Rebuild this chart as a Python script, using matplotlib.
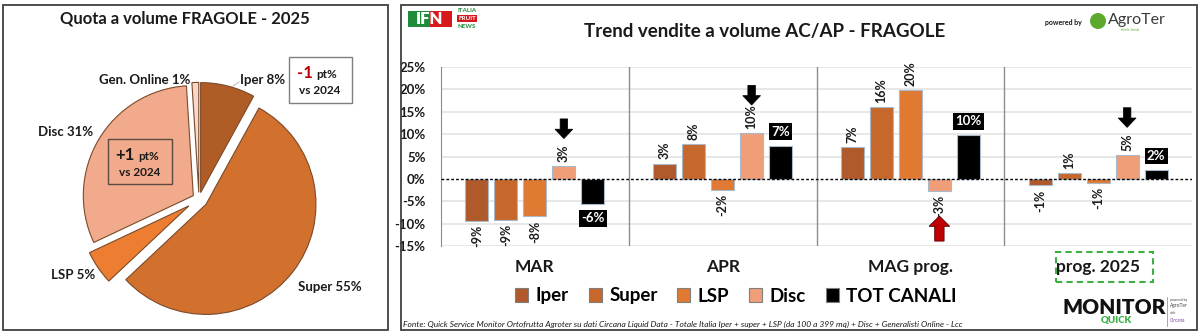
import matplotlib
matplotlib.use("Agg")
import matplotlib.pyplot as plt
from matplotlib.patches import Rectangle, FancyArrow, Ellipse
from matplotlib.lines import Line2D
import numpy as np

plt.rcParams['font.family'] = ['Lato', 'DejaVu Sans']

# ---------------- data ----------------
pie_labels = ["Iper", "Super", "LSP", "Disc", "Gen. Online"]
pie_values = [8, 55, 5, 31, 1]

categories = ["MAR", "APR", "MAG prog.", "prog. 2025"]
series_names = ["Iper", "Super", "LSP", "Disc", "TOT CANALI"]
iper = [-9.4, 3.4, 7.1, -1.4]
super_ = [-9.2, 7.8, 16.0, 1.3]
lsp = [-8.4, -2.4, 19.8, -0.9]
disc = [2.8, 10.3, -2.6, 5.3]
tot = [-5.6, 7.3, 9.7, 1.9]
yticks = [-15, -10, -5, 0, 5, 10, 15, 20, 25]

W, H = 1200, 334
fig = plt.figure(figsize=(12, 3.34), dpi=100)

def fx(x):
    return x / W

def fy(y):
    return 1 - y / H

# panel borders
fig.patches.append(Rectangle((fx(3), fy(330)), fx(385), 325 / H, transform=fig.transFigure,
                             fill=False, edgecolor='#404040', lw=1.3))
fig.patches.append(Rectangle((fx(401), fy(330)), fx(796), 325 / H, transform=fig.transFigure,
                             fill=False, edgecolor='#404040', lw=1.3))

# ---------------- pie ----------------
pie_colors = ['#B05C26', '#D2702E', '#ED7D31', '#F2AA8C', '#FAD7C8']
R = 110.0
cx, cy = 199, 199
axp = fig.add_axes([fx(cx - 165), fy(cy + 135), 330 / W, 270 / H])
axp.pie(pie_values, colors=pie_colors, startangle=90, counterclock=False,
        explode=[0.06, 0.08, 0.11, 0.06, 0.06], radius=1.0,
        wedgeprops=dict(edgecolor='#7A4A2A', linewidth=0.8))
axp.set_xlim(-1.5, 1.5)
axp.set_ylim(-135 / R, 135 / R)
axp.set_aspect('auto')
axp.axis('off')

fig.text(fx(185), fy(18), "Quota a volume FRAGOLE - 2025", ha='center', va='center',
         fontsize=12, fontweight='bold', color='#1a1a1a')

lbl_kw = dict(fontsize=9.5, fontweight='bold', color='#1a1a1a', va='center')
fig.text(fx(240), fy(80), f"{pie_labels[0]} {pie_values[0]}%", ha='left', **lbl_kw)
fig.text(fx(190), fy(80), f"{pie_labels[4]} {pie_values[4]}%", ha='right', **lbl_kw)
fig.text(fx(93), fy(132), f"{pie_labels[3]} {pie_values[3]}%", ha='right', **lbl_kw)
fig.text(fx(95), fy(275), f"{pie_labels[2]} {pie_values[2]}%", ha='right', **lbl_kw)
fig.text(fx(298), fy(287), f"{pie_labels[1]} {pie_values[1]}%", ha='left', **lbl_kw)
# leader line Iper
fig.lines.append(Line2D([fx(233), fx(239)], [fy(86), fy(82)], transform=fig.transFigure,
                        color='#BFBFBF', lw=0.8))

# -1 box
fig.patches.append(Rectangle((fx(289), fy(103)), 63 / W, 46 / H, transform=fig.transFigure,
                             facecolor='white', edgecolor='#7F7F7F', lw=1.0))
fig.text(fx(313), fy(73), "-1", ha='right', va='center', fontsize=12, fontweight='bold', color='#C00000')
fig.text(fx(316), fy(74), "pt%", ha='left', va='center', fontsize=8.5, fontweight='bold', color='#1a1a1a')
fig.text(fx(320), fy(91), "vs 2024", ha='center', va='center', fontsize=8.5, fontweight='bold', color='#1a1a1a')
# +1 box
fig.patches.append(Rectangle((fx(108), fy(184)), 64 / W, 45 / H, transform=fig.transFigure,
                             fill=False, edgecolor='#5A4A40', lw=1.0))
fig.text(fx(135), fy(155), "+1", ha='right', va='center', fontsize=12, fontweight='bold', color='#1a1a1a')
fig.text(fx(138), fy(156), "pt%", ha='left', va='center', fontsize=8.5, fontweight='bold', color='#1a1a1a')
fig.text(fx(140), fy(173), "vs 2024", ha='center', va='center', fontsize=8.5, fontweight='bold', color='#1a1a1a')

# ---------------- bars ----------------
bar_colors = ['#B0592A', '#C6682C', '#E07A32', '#F09E78', '#000000']
ax = fig.add_axes([fx(441), fy(246), 751 / W, 179 / H])
ax.set_xlim(0, 4)
ax.set_ylim(-15, 25)
series = [iper, super_, lsp, disc, tot]
x = np.arange(len(categories)) + 0.5
step = 0.1545
bw = 0.1225
for k, (vals, col) in enumerate(zip(series, bar_colors)):
    xs = x + (k - 2) * step
    ax.bar(xs, vals, width=bw, color=col, edgecolor='#A9B9C9', lw=0.8, zorder=3)
    for xi, v in zip(xs, vals):
        lab = f"{int(np.round(v)):d}%"
        if k < 4:
            ax.annotate(lab, (xi, v), xytext=(0, 3 if v >= 0 else -3), textcoords='offset points',
                        rotation=90, ha='center', va='bottom' if v >= 0 else 'top',
                        fontsize=9, fontweight='bold', color='#1a1a1a', zorder=5)
        else:
            ax.annotate(lab, (xi, v), xytext=(0, 6 if v >= 0 else -6), textcoords='offset points',
                        ha='center', va='bottom' if v >= 0 else 'top',
                        fontsize=9.5, fontweight='bold', color='white', zorder=5,
                        bbox=dict(boxstyle='square,pad=0.18', facecolor='black', edgecolor='none'))

# arrows near Disc bars
for gi, v in enumerate(disc):
    xi = x[gi] + 1 * step
    if v >= 0:
        tip = v + 6.2
        ax.add_patch(FancyArrow(xi, tip + 4.4, 0, -4.4, width=0.04, head_width=0.095,
                                head_length=2.1, length_includes_head=True,
                                facecolor='black', edgecolor='black', lw=0.5, zorder=6, clip_on=False))
    else:
        tip = v - 5.7
        ax.add_patch(FancyArrow(xi, tip - 5.6, 0, 5.6, width=0.05, head_width=0.11,
                                head_length=2.3, length_includes_head=True,
                                facecolor='#C00000', edgecolor='#5a0000', lw=0.6, zorder=6, clip_on=False))

ax.axhline(0, color='black', lw=1.0, ls=(0, (2, 1.5)), zorder=4)
for yt in yticks:
    if yt != 0:
        ax.axhline(yt, color='#E3E3E3', lw=1.2, zorder=1)
for b in [1, 2, 3]:
    ax.axvline(b, color='#8C8C8C', lw=1.0, zorder=2)
for s in ['top', 'right', 'bottom']:
    ax.spines[s].set_visible(False)
ax.spines['left'].set_color('#8C8C8C')
ax.set_xticks([])
ax.set_yticks(yticks)
ax.set_yticklabels([f"{t}%" for t in yticks], fontsize=9.5, fontweight='bold', color='#1a1a1a')
ax.tick_params(axis='y', length=0, pad=11)
ax.set_facecolor('none')

# category labels
for i, c in enumerate(categories):
    xc = 441 + (i + 0.5) * 187.75
    fig.text(fx(xc), fy(267), c, ha='center', va='center', fontsize=12.5, fontweight='bold', color='#1a1a1a')
fig.patches.append(Rectangle((fx(1056), fy(282)), 97 / W, 30 / H, transform=fig.transFigure,
                             fill=False, edgecolor='#3CB043', lw=1.5, ls=(0, (3, 2))))

# legend
handles = [Rectangle((0, 0), 1, 1, facecolor=c, edgecolor='#7F7F7F', lw=0.8) for c in bar_colors]
fig.legend(handles, series_names, loc='center', bbox_to_anchor=(fx(736), fy(296)), ncol=5,
           frameon=False, prop=dict(size=13.5, weight='bold'), handlelength=0.7, handleheight=0.7,
           handletextpad=0.4, columnspacing=1.05)

# title
fig.text(fx(765), fy(31), "Trend vendite a volume AC/AP - FRAGOLE", ha='center', va='center',
         fontsize=13.5, fontweight='bold', color='#1a1a1a')

# source
fig.text(fx(403), fy(324), "Fonte: Quick Service Monitor Ortofrutta Agroter su dati Circana Liquid Data - Totale Italia Iper + super + LSP (da 100 a 399 mq) + Disc + Generalisti Online - Lcc",
         ha='left', va='center', fontsize=6, style='italic', color='#1a1a1a')

# IFN logo
fig.patches.append(Rectangle((fx(408), fy(27)), 22 / W, 16 / H, transform=fig.transFigure,
                             facecolor='#1E8C3A', edgecolor='none'))
fig.patches.append(Rectangle((fx(430), fy(27)), 22 / W, 16 / H, transform=fig.transFigure,
                             facecolor='#D7191C', edgecolor='none'))
fig.text(fx(430), fy(19), "IFN", ha='center', va='center', fontsize=12, fontweight='heavy', color='white')
fig.text(fx(467), fy(11), "ITALIA", ha='center', va='center', fontsize=4.5, fontweight='bold', color='#1E8C3A')
fig.text(fx(467), fy(18.5), "FRUIT", ha='center', va='center', fontsize=4.5, fontweight='bold', color='white',
         bbox=dict(boxstyle='square,pad=0.15', facecolor='#D7191C', edgecolor='none'))
fig.text(fx(467), fy(26), "NEWS", ha='center', va='center', fontsize=4.5, fontweight='bold', color='#1E8C3A')

# AgroTer logo
fig.text(fx(1063), fy(23), "powered by", ha='center', va='center', fontsize=5, fontweight='bold', color='#1a1a1a')
fig.patches.append(Ellipse((fx(1098), fy(21)), 16 / W, 16 / H, transform=fig.transFigure,
                           facecolor='#5BAA2E', edgecolor='none'))
fig.text(fx(1108), fy(20), "AgroTer", ha='left', va='center', fontsize=11.5, color='#3a3a3a')
fig.text(fx(1130), fy(30), "think fresh", ha='center', va='center', fontsize=2.8, color='#5BAA2E')

# Monitor Quick logo
fig.text(fx(1114), fy(307), "MONITOR", ha='center', va='center', fontsize=15, fontweight='heavy', color='#111111')
fig.text(fx(1116), fy(321), "QUICK", ha='center', va='center', fontsize=7, fontweight='heavy', color='#3CB043')
fig.lines.append(Line2D([fx(1167), fx(1167)], [fy(297), fy(326)], transform=fig.transFigure,
                        color='#9a9a9a', lw=0.6))
fig.text(fx(1170), fy(300), "powered by", ha='left', va='center', fontsize=2.3, color='#444')
fig.text(fx(1170), fy(306), "AgroTer", ha='left', va='center', fontsize=3.5, color='#444')
fig.text(fx(1170), fy(313), "with", ha='left', va='center', fontsize=2.3, color='#444')
fig.text(fx(1170), fy(320), "Circana", ha='left', va='center', fontsize=3.3, color='#7B3F9E')

fig.savefig("out.png", dpi=100, facecolor='white')
